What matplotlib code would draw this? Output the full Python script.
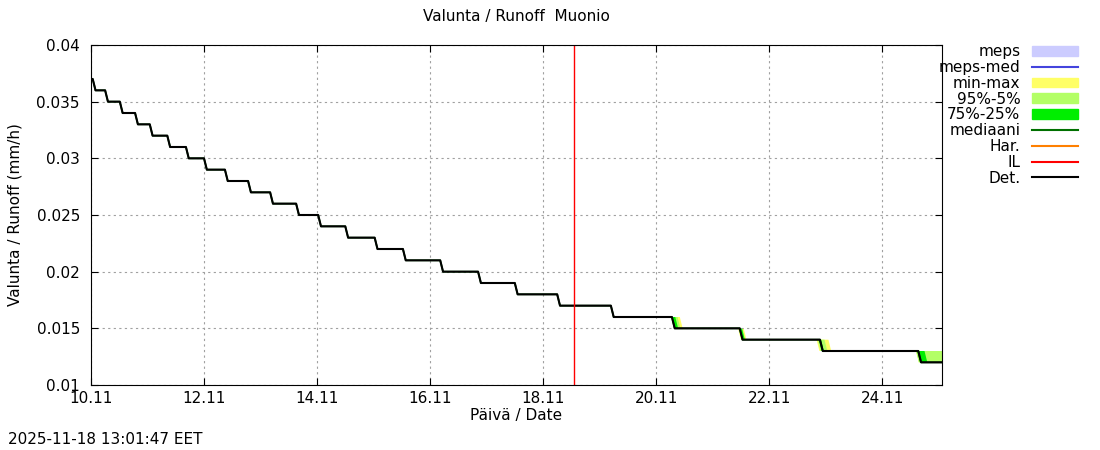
import numpy as np
import matplotlib.pyplot as plt
from matplotlib.lines import Line2D
from matplotlib.patches import Patch

# time in days after 10.11 00:00
t_end = 15.06
t_now = 8.54
levels = [0.037, 0.036, 0.035, 0.034, 0.033, 0.032, 0.031, 0.030, 0.029, 0.028,
          0.027, 0.026, 0.025, 0.024, 0.023, 0.022, 0.021, 0.020, 0.019, 0.018,
          0.017, 0.016, 0.015, 0.014, 0.013, 0.012]
det_steps = [0.03, 0.25, 0.51, 0.78, 1.04, 1.35, 1.68, 2.0, 2.37, 2.78, 3.17,
             3.63, 4.02, 4.5, 5.02, 5.52, 6.18, 6.85, 7.5, 8.25, 9.2, 10.28,
             11.48, 12.9, 14.64]
# forecast steps (last four): earliest / latest step times per quantile band
fc_min = [10.27, 11.45, 12.84, 14.6]
fc_max = [10.42, 11.55, 13.05, 15.06]
fc_5 = [10.28, 11.46, 12.86, 14.6]
fc_95 = [10.38, 11.53, 12.98, 15.06]
fc_25 = [10.29, 11.47, 12.88, 14.62]
fc_75 = [10.34, 11.52, 12.92, 14.75]

xticks = np.arange(0, 15, 2)
xlabels = ['10.11', '12.11', '14.11', '16.11', '18.11', '20.11', '22.11', '24.11']


def step_line(steps, slant=0.05):
    x = [0.0]
    y = [levels[0]]
    for i, s in enumerate(steps):
        x += [s, s + slant]
        y += [levels[i], levels[i + 1]]
    x.append(t_end)
    y.append(levels[len(steps)])
    return np.array(x), np.array(y)


def band(lo_steps, hi_steps, color):
    base = det_steps[:-4]
    xl, yl = step_line(base + lo_steps)
    xh, yh = step_line(base + hi_steps)
    ax.fill(np.concatenate([xh, xl[::-1]]), np.concatenate([yh, yl[::-1]]),
            color=color, lw=0)


fig = plt.figure(figsize=(11, 4.5), dpi=100)
ax = fig.add_axes([91 / 1100, 1 - 385 / 450, 851 / 1100, 340 / 450])

band(fc_min, fc_max, '#ffff66')
band(fc_5, fc_95, '#b3ff66')
band(fc_25, fc_75, '#00ee00')
xm, ym = step_line(det_steps)
ax.plot(xm, ym, color='#007000', lw=1.2)
ax.plot(xm, ym, color='black', lw=1.5)
ax.axvline(t_now, color='red', lw=1)

ax.set_xlim(0, t_end)
ax.set_ylim(0.01, 0.04)
ax.set_xticks(xticks)
ax.set_xticklabels(xlabels)
ax.set_yticks(np.arange(0.01, 0.0401, 0.005))
ax.set_yticklabels(['0.01', '0.015', '0.02', '0.025', '0.03', '0.035', '0.04'])
ax.grid(True, color='#a0a0a0', ls=(0, (2, 3)), lw=0.8)
ax.tick_params(direction='in', top=True, right=True, labelsize=11, length=5)
ax.tick_params(axis='y', pad=8)
ax.tick_params(axis='x', pad=4)
ax.set_xlabel('Päivä / Date', fontsize=11, labelpad=2)
ax.set_ylabel('Valunta / Runoff (mm/h)', fontsize=11, labelpad=10)
ax.set_title('Valunta / Runoff  Muonio', fontsize=11, pad=17)

handles = [Patch(color='#ccccff'), Line2D([], [], color='#4444dd'),
           Patch(color='#ffff66'), Patch(color='#b3ff66'), Patch(color='#00ee00'),
           Line2D([], [], color='#007000'), Line2D([], [], color='#ff8000'),
           Line2D([], [], color='red'), Line2D([], [], color='black', lw=1.5)]
names = ['meps', 'meps-med', 'min-max', '95%-5%', '75%-25%', 'mediaani', 'Har.', 'IL', 'Det.']
fig.legend(handles, names, loc='upper right', bbox_to_anchor=(0.99, 0.925),
           frameon=False, markerfirst=False, fontsize=11, labelspacing=0.05,
           handlelength=3, handleheight=0.6, borderaxespad=0.3)
fig.text(8 / 1100, 1 - 440 / 450, '2025-11-18 13:01:47 EET', fontsize=11, va='center')
fig.savefig('out.png')
